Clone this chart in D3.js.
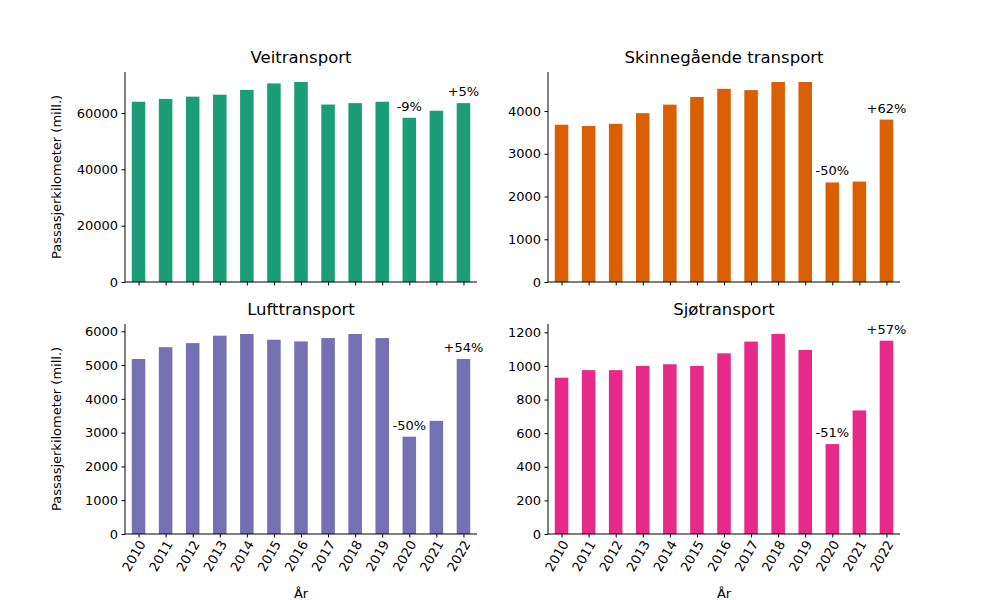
<!DOCTYPE html>
<html><head><meta charset="utf-8">
<script src="https://cdn.jsdelivr.net/npm/d3@7"></script>
<style>body{margin:0;background:#fff}text{font-family:"DejaVu Sans",sans-serif}</style>
</head><body><svg id="c" width="1000" height="600"></svg>
<script>
const years = ["2010","2011","2012","2013","2014","2015","2016","2017","2018","2019","2020","2021","2022"];
const veit = [64000,65000,65800,66500,68200,70500,71000,63000,63500,64000,58300,60800,63500];
const skinne = [3680,3650,3700,3950,4150,4330,4520,4490,4680,4680,2330,2350,3800];
const luft = [5180,5530,5650,5870,5920,5750,5700,5800,5920,5800,2880,3350,5180];
const sjo = [930,975,975,1000,1010,1000,1075,1145,1190,1095,535,735,1150];
const titles = ["Veitransport","Skinnegående transport","Lufttransport","Sjøtransport"];
const colors = ["#1b9e77","#d95f02","#7570b3","#e7298a"];
const notes = [["-9%","+5%"],["-50%","+62%"],["-50%","+54%"],["-51%","+57%"]];
const tickSteps = [20000,1000,1000,200];
const series = [veit, skinne, luft, sjo];

const svg = d3.select("#c");
const panels = [[125,72],[548,72],[125,324],[548,324]];
const W = 352, H = 210;

series.forEach((vals, i) => {
  const [x0, y0] = panels[i];
  const g = svg.append("g").attr("transform", `translate(${x0},${y0})`);
  const x = d3.scaleLinear().domain([-0.5, 12.5]).range([0, W]);
  const y = d3.scaleLinear().domain([0, d3.max(vals) * 1.05]).range([H, 0]);
  const bw = x(0.5) - x(0);

  g.selectAll("rect").data(vals).enter().append("rect")
    .attr("x", (d, j) => x(j) - bw / 2).attr("width", bw)
    .attr("y", d => y(d)).attr("height", d => H - y(d))
    .attr("fill", colors[i]);

  const ya = d3.axisLeft(y).tickValues(d3.range(0, y.domain()[1], tickSteps[i]))
    .tickFormat(d3.format("d")).tickSize(3.5).tickPadding(3.5);
  g.append("g").call(ya).call(a => a.selectAll("text").attr("font-size", 13).attr("fill", "#000"))
    .call(a => a.select(".domain").attr("d", `M0,${H}V0`));

  const xa = d3.axisBottom(x).tickValues(d3.range(13)).tickSize(3.5)
    .tickFormat(j => i >= 2 ? years[j] : "");
  const xg = g.append("g").attr("transform", `translate(0,${H})`).call(xa);
  xg.select(".domain").attr("d", `M0,0H${W}`);
  xg.selectAll("text").attr("font-size", 13).attr("fill", "#000");
  if (i >= 2) {
    xg.selectAll("text").attr("text-anchor", "end").attr("dy", null)
      .attr("transform", "translate(4,8) rotate(-60)").attr("y", 0).attr("x", 0)
      .attr("dominant-baseline", "middle");
    g.append("text").attr("x", W / 2).attr("y", H + 64).attr("text-anchor", "middle")
      .attr("font-size", 13).text("År");
  }

  g.append("text").attr("x", W / 2).attr("y", -9).attr("text-anchor", "middle")
    .attr("font-size", 16.5).text(titles[i]);
  if (i % 2 === 0)
    g.append("text").attr("transform", `translate(-64,${H / 2}) rotate(-90)`)
      .attr("text-anchor", "middle").attr("font-size", 13).text("Passasjerkilometer (mill.)");

  [10, 12].forEach((j, k) => {
    g.append("text").attr("x", x(j)).attr("y", y(vals[j]) - 7)
      .attr("text-anchor", "middle").attr("font-size", 13).text(notes[i][k]);
  });
});
</script></body></html>
